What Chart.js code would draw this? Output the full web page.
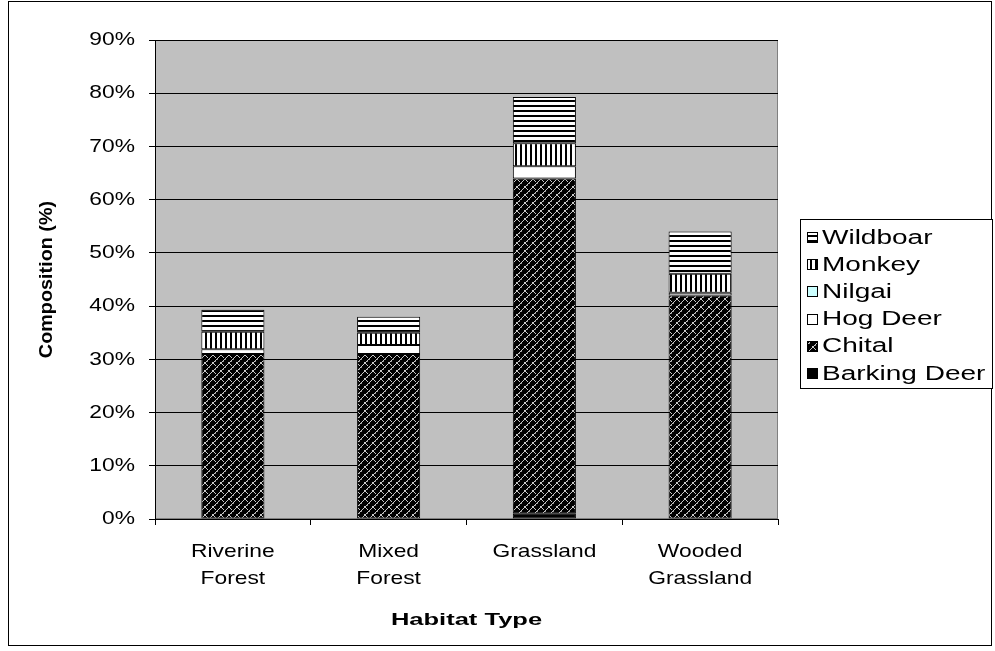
<!DOCTYPE html>
<html>
<head>
<meta charset="utf-8">
<script src="https://cdn.jsdelivr.net/npm/chart.js@4.4.1/dist/chart.umd.min.js"></script>
<style>
  html, body { margin: 0; padding: 0; background: #fff; }
  #wrap { width: 995px; height: 651px; position: relative; }
</style>
</head>
<body>
<div id="wrap"><canvas id="c" width="995" height="651"></canvas></div>
<script>
// Prey species composition (%) by habitat type
const categories = [["Riverine", "Forest"], ["Mixed", "Forest"], "Grassland", ["Wooded", "Grassland"]];
const barkingDeer = [0, 0, 1, 0];
const chital = [31, 31, 63, 42];
const hogDeer = [0.9, 1.7, 2.3, 0.5];
const nilgai = [0, 0, 0, 0];
const monkey = [3.3, 2.3, 4.3, 3.6];
const wildboar = [4.1, 3.0, 8.7, 7.9];
const yTickLabels = ["0%", "10%", "20%", "30%", "40%", "50%", "60%", "70%", "80%", "90%"];

const FONT = "'Liberation Sans', Arial, sans-serif";

const canvas = document.getElementById('c');
const mainCtx = canvas.getContext('2d');

// Wide lettering: text is drawn horizontally widened, the amount depending on the font in use
function widthFactor(font) {
  const m = /(\d+(?:\.\d+)?)px/.exec(font);
  const size = m ? parseFloat(m[1]) : 0;
  const bold = /bold|700/.test(font);
  if (bold && size === 18) return 1.1;    // rotated axis title
  if (bold) return 1.5;                   // horizontal axis title
  if (size === 20) return 1.4;            // legend entries
  return 1.2;                             // tick labels
}
const rawFillText = mainCtx.fillText;
mainCtx.fillText = function (text, x, y) {
  const f = widthFactor(this.font);
  this.save();
  this.translate(x, y);
  this.scale(f, 1);
  rawFillText.call(this, text, 0, 0);
  this.restore();
};

function makePattern(w, h, paint) {
  const t = document.createElement('canvas');
  t.width = w; t.height = h;
  const g = t.getContext('2d');
  paint(g);
  return mainCtx.createPattern(t, 'repeat');
}

// horizontal stripes
const stripesH = makePattern(1, 5, g => {
  g.fillStyle = '#fff'; g.fillRect(0, 0, 1, 5);
  g.fillStyle = '#000'; g.fillRect(0, 0, 1, 2);
});
// vertical stripes
const stripesV = makePattern(5, 1, g => {
  g.fillStyle = '#fff'; g.fillRect(0, 0, 5, 1);
  g.fillStyle = '#000'; g.fillRect(0, 0, 2, 1);
});
// dark diagonal weave
const weave = makePattern(8, 8, g => {
  g.fillStyle = '#000'; g.fillRect(0, 0, 8, 8);
  g.fillStyle = '#c8c8c8';
  for (let i = 0; i < 8; i++) g.fillRect(i, 7 - i, 1, 1);
  g.fillRect(4, 2, 1, 1); g.fillRect(5, 3, 1, 1); g.fillRect(6, 4, 1, 1); g.fillRect(7, 5, 1, 1);
  g.fillStyle = '#8a8a8a';
  g.fillRect(1, 7, 1, 1); g.fillRect(7, 1, 1, 1);
});

const series = [
  { label: 'Barking Deer', data: barkingDeer, fill: '#000000' },
  { label: 'Chital', data: chital, fill: weave },
  { label: 'Hog Deer', data: hogDeer, fill: '#ffffff' },
  { label: 'Nilgai', data: nilgai, fill: '#ccffff' },
  { label: 'Monkey', data: monkey, fill: stripesV },
  { label: 'Wildboar', data: wildboar, fill: stripesH }
];

const framePlugin = {
  id: 'frame',
  beforeDraw(chart) {
    const { ctx, chartArea: a } = chart;
    ctx.save();
    ctx.fillStyle = '#fff';
    ctx.fillRect(0, 0, chart.width, chart.height);
    ctx.fillStyle = '#c0c0c0';
    ctx.fillRect(a.left, a.top, a.right - a.left, a.bottom - a.top);
    ctx.strokeStyle = '#808080';
    ctx.lineWidth = 1;
    ctx.strokeRect(a.left + 0.5, a.top + 0.5, a.right - a.left - 1, a.bottom - a.top - 1);
    ctx.strokeStyle = '#000';
    ctx.strokeRect(8.5, 1.5, 983, 644);
    ctx.restore();
  }
};

const legendPlugin = {
  id: 'boxLegend',
  afterDraw(chart) {
    const ctx = chart.ctx;
    const x0 = 800, y0 = 219, w = 193, h = 170;
    ctx.save();
    ctx.fillStyle = '#fff';
    ctx.fillRect(x0, y0, w, h);
    ctx.strokeStyle = '#000';
    ctx.lineWidth = 1;
    ctx.strokeRect(x0 + 0.5, y0 + 0.5, w - 1, h - 1);
    const ds = chart.data.datasets.slice().reverse();
    ctx.font = '20px ' + FONT;
    ctx.textBaseline = 'middle';
    ctx.textAlign = 'left';
    ds.forEach((d, k) => {
      const y = 237 + k * 27.2;
      const by = Math.round(y - 5);
      ctx.fillStyle = d.backgroundColor;
      ctx.fillRect(807, by, 11, 11);
      ctx.strokeStyle = '#000';
      ctx.strokeRect(807.5, by + 0.5, 10, 10);
      ctx.fillStyle = '#000';
      ctx.fillText(d.label, 822, y + 1);
    });
    ctx.restore();
  }
};

new Chart(canvas, {
  type: 'bar',
  data: {
    labels: categories,
    datasets: series.map(s => ({
      label: s.label,
      data: s.data,
      backgroundColor: s.fill,
      borderColor: '#000',
      borderWidth: 1,
      borderSkipped: false
    }))
  },
  options: {
    responsive: false,
    animation: false,
    layout: { padding: { left: 9, top: 40, right: 217, bottom: 0 } },
    categoryPercentage: 1,
    barPercentage: 0.405,
    plugins: { legend: { display: false }, tooltip: { enabled: false } },
    scales: {
      x: {
        stacked: true,
        grid: { display: true, drawOnChartArea: false, offset: true, tickLength: 6, color: '#000' },
        border: { color: '#000' },
        ticks: { font: { family: FONT, size: 19, lineHeight: 1.42 }, color: '#000', padding: 13, maxRotation: 0, autoSkip: false },
        title: { display: true, text: 'Habitat Type', color: '#000', font: { family: FONT, size: 17, weight: 'bold' }, padding: { top: 0, bottom: 20 } },
        afterFit(s) { s.height = 132; }
      },
      y: {
        stacked: true,
        min: 0,
        max: 90,
        grid: { color: '#000', tickLength: 6 },
        border: { color: '#000' },
        ticks: {
          stepSize: 10,
          color: '#000',
          padding: 14,
          font: { family: FONT, size: 19 },
          callback: v => yTickLabels[Math.round(v / 10)]
        },
        title: { display: true, text: 'Composition (%)', color: '#000', font: { family: FONT, size: 18, weight: 'bold' }, padding: { top: 27, bottom: 0 } },
        afterFit(s) { s.width = 146; }
      }
    }
  },
  plugins: [framePlugin, legendPlugin]
});
</script>
</body>
</html>
